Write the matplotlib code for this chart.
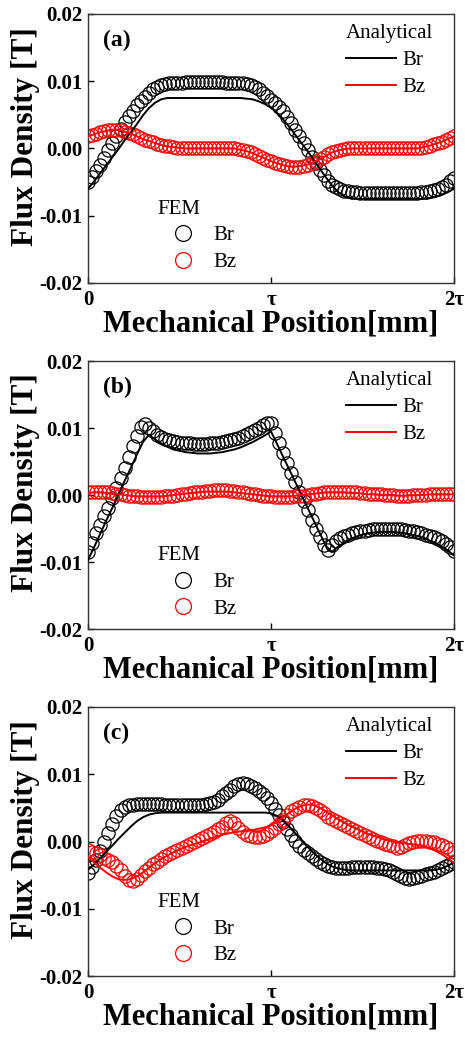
import matplotlib
matplotlib.use("Agg")
import matplotlib.pyplot as plt
import numpy as np

plt.rcParams['font.family'] = ['Liberation Serif', 'DejaVu Serif']

# sample positions, in units of tau (0 .. 2 tau)
x_fem = np.linspace(0, 2, 91)
x_ana = np.linspace(0, 2, 61)

x_ticks = [0, 1, 2]
x_labels = ['0', 'τ', '2τ']
y_ticks = [-0.02, -0.01, 0.0, 0.01, 0.02]
y_labels = ['-0.02', '-0.01', '0.00', '0.01', '0.02']
panel_names = ['(a)', '(b)', '(c)']

# ---- (a) ----
a_fem_br = [-0.0050, -0.0042, -0.0034, -0.0024, -0.0014, -0.0003, 0.0008, 0.0018, 0.0029, 0.0039,
            0.0048, 0.0056, 0.0064, 0.0071, 0.0077, 0.0083, 0.0088, 0.0092, 0.0094, 0.0096,
            0.0097, 0.0098, 0.0098, 0.0098, 0.0099, 0.0099, 0.0099, 0.0099, 0.0099, 0.0099,
            0.0099, 0.0099, 0.0099, 0.0099, 0.0098, 0.0098, 0.0098, 0.0097, 0.0097, 0.0096,
            0.0094, 0.0091, 0.0088, 0.0083, 0.0078, 0.0072, 0.0067, 0.0061, 0.0055, 0.0047,
            0.0038, 0.0028, 0.0018, 0.0008, -0.0002, -0.0012, -0.0022, -0.0032, -0.0040, -0.0048,
            -0.0054, -0.0058, -0.0061, -0.0063, -0.0064, -0.0065, -0.0065, -0.0066, -0.0066, -0.0066,
            -0.0066, -0.0066, -0.0066, -0.0066, -0.0066, -0.0066, -0.0066, -0.0066, -0.0066, -0.0066,
            -0.0066, -0.0066, -0.0065, -0.0065, -0.0064, -0.0062, -0.0060, -0.0057, -0.0054, -0.0049,
            -0.0044]
a_fem_bz = [0.0018, 0.0020, 0.0022, 0.0024, 0.0026, 0.0027, 0.0028, 0.0028, 0.0027, 0.0025,
            0.0023, 0.0021, 0.0018, 0.0016, 0.0013, 0.0011, 0.0009, 0.0007, 0.0005, 0.0004,
            0.0003, 0.0002, 0.0001, 0.0000, 0.0000, 0.0000, 0.0000, 0.0000, 0.0000, 0.0000,
            0.0000, 0.0000, 0.0000, 0.0000, 0.0000, 0.0000, 0.0000, -0.0001, -0.0002, -0.0004,
            -0.0006, -0.0009, -0.0011, -0.0014, -0.0017, -0.0019, -0.0021, -0.0023, -0.0025, -0.0026,
            -0.0027, -0.0027, -0.0027, -0.0026, -0.0024, -0.0022, -0.0019, -0.0016, -0.0012, -0.0009,
            -0.0006, -0.0004, -0.0002, -0.0001, 0.0000, 0.0000, 0.0000, 0.0000, 0.0000, 0.0000,
            0.0000, 0.0000, 0.0000, 0.0000, 0.0000, 0.0000, 0.0000, 0.0000, 0.0000, 0.0000,
            0.0000, 0.0000, 0.0000, 0.0002, 0.0004, 0.0006, 0.0008, 0.0010, 0.0012, 0.0015,
            0.0018]
a_ana_br = [-0.0060, -0.0049, -0.0037, -0.0025, -0.0013, -0.0001, 0.0012, 0.0024, 0.0036, 0.0049,
            0.0060, 0.0068, 0.0073, 0.0075, 0.0075, 0.0075, 0.0075, 0.0075, 0.0075, 0.0075,
            0.0075, 0.0075, 0.0075, 0.0075, 0.0075, 0.0075, 0.0074, 0.0073, 0.0070, 0.0066,
            0.0061, 0.0053, 0.0043, 0.0032, 0.0020, 0.0008, -0.0004, -0.0017, -0.0030, -0.0043,
            -0.0055, -0.0065, -0.0071, -0.0074, -0.0075, -0.0075, -0.0075, -0.0075, -0.0075, -0.0075,
            -0.0075, -0.0075, -0.0075, -0.0075, -0.0075, -0.0075, -0.0074, -0.0072, -0.0069, -0.0065,
            -0.0060]
a_ana_bz = [0.0018, 0.0021, 0.0024, 0.0026, 0.0028, 0.0028, 0.0025, 0.0022, 0.0018, 0.0014,
            0.0011, 0.0008, 0.0005, 0.0003, 0.0002, 0.0001, 0.0000, 0.0000, 0.0000, 0.0000,
            0.0000, 0.0000, 0.0000, 0.0000, 0.0000, -0.0002, -0.0004, -0.0007, -0.0011, -0.0015,
            -0.0019, -0.0022, -0.0025, -0.0027, -0.0027, -0.0026, -0.0024, -0.0020, -0.0016, -0.0011,
            -0.0006, -0.0003, -0.0001, 0.0000, 0.0000, 0.0000, 0.0000, 0.0000, 0.0000, 0.0000,
            0.0000, 0.0000, 0.0000, 0.0000, 0.0000, 0.0002, 0.0004, 0.0007, 0.0010, 0.0014,
            0.0018]

# ---- (b) ----
b_fem_br = [-0.0085, -0.0071, -0.0057, -0.0045, -0.0032, -0.0019, -0.0005, 0.0010, 0.0025, 0.0041,
            0.0057, 0.0073, 0.0088, 0.0102, 0.0106, 0.0100, 0.0095, 0.0090, 0.0087, 0.0084,
            0.0082, 0.0080, 0.0079, 0.0078, 0.0077, 0.0077, 0.0076, 0.0076, 0.0076, 0.0076,
            0.0077, 0.0077, 0.0078, 0.0079, 0.0080, 0.0082, 0.0083, 0.0085, 0.0088, 0.0091,
            0.0094, 0.0097, 0.0100, 0.0104, 0.0108, 0.0108, 0.0093, 0.0078, 0.0063, 0.0048,
            0.0033, 0.0019, 0.0005, -0.0009, -0.0023, -0.0037, -0.0050, -0.0063, -0.0075, -0.0082,
            -0.0074, -0.0068, -0.0064, -0.0061, -0.0059, -0.0057, -0.0055, -0.0054, -0.0053, -0.0052,
            -0.0051, -0.0051, -0.0050, -0.0050, -0.0050, -0.0050, -0.0051, -0.0051, -0.0052, -0.0053,
            -0.0054, -0.0055, -0.0057, -0.0059, -0.0061, -0.0063, -0.0066, -0.0069, -0.0073, -0.0078,
            -0.0083]
b_fem_bz = [0.0004, 0.0005, 0.0005, 0.0005, 0.0005, 0.0004, 0.0003, 0.0002, 0.0001, 0.0000,
            -0.0001, -0.0002, -0.0002, -0.0003, -0.0003, -0.0003, -0.0003, -0.0003, -0.0003, -0.0002,
            -0.0002, -0.0001, 0.0000, 0.0001, 0.0002, 0.0003, 0.0004, 0.0005, 0.0005, 0.0006,
            0.0006, 0.0007, 0.0007, 0.0007, 0.0007, 0.0006, 0.0006, 0.0005, 0.0004, 0.0003,
            0.0002, 0.0001, 0.0000, -0.0001, -0.0002, -0.0002, -0.0003, -0.0003, -0.0003, -0.0003,
            -0.0003, -0.0002, -0.0002, -0.0001, 0.0000, 0.0001, 0.0002, 0.0003, 0.0004, 0.0004,
            0.0005, 0.0005, 0.0005, 0.0005, 0.0005, 0.0004, 0.0004, 0.0003, 0.0003, 0.0002,
            0.0002, 0.0001, 0.0001, 0.0000, 0.0000, 0.0000, -0.0001, -0.0001, -0.0001, -0.0001,
            0.0000, 0.0000, 0.0000, 0.0000, 0.0001, 0.0001, 0.0001, 0.0001, 0.0001, 0.0001,
            0.0001]
b_ana_br = [-0.0097, -0.0078, -0.0058, -0.0038, -0.0019, 0.0001, 0.0021, 0.0040, 0.0060, 0.0079,
            0.0090, 0.0083, 0.0077, 0.0072, 0.0068, 0.0066, 0.0064, 0.0063, 0.0062, 0.0062,
            0.0062, 0.0063, 0.0064, 0.0066, 0.0068, 0.0071, 0.0075, 0.0079, 0.0084, 0.0089,
            0.0095, 0.0076, 0.0057, 0.0038, 0.0019, 0.0000, -0.0019, -0.0038, -0.0057, -0.0076,
            -0.0085, -0.0077, -0.0071, -0.0066, -0.0062, -0.0059, -0.0057, -0.0056, -0.0055, -0.0055,
            -0.0055, -0.0056, -0.0057, -0.0059, -0.0061, -0.0064, -0.0068, -0.0072, -0.0077, -0.0083,
            -0.0090]
b_ana_bz = [0.0003, 0.0004, 0.0004, 0.0003, 0.0002, 0.0001, 0.0000, -0.0001, -0.0002, -0.0002,
            -0.0002, -0.0002, -0.0002, -0.0001, 0.0000, 0.0001, 0.0002, 0.0003, 0.0004, 0.0005,
            0.0005, 0.0005, 0.0005, 0.0005, 0.0004, 0.0003, 0.0002, 0.0001, 0.0000, -0.0001,
            -0.0002, -0.0002, -0.0002, -0.0002, -0.0001, 0.0000, 0.0001, 0.0002, 0.0003, 0.0004,
            0.0004, 0.0004, 0.0004, 0.0003, 0.0003, 0.0002, 0.0001, 0.0001, 0.0000, 0.0000,
            0.0000, -0.0001, -0.0001, 0.0000, 0.0000, 0.0000, 0.0001, 0.0001, 0.0001, 0.0001,
            0.0001]

# ---- (c) ----
c_fem_br = [-0.0047, -0.0038, -0.0027, -0.0014, -0.0001, 0.0013, 0.0026, 0.0038, 0.0047, 0.0052,
            0.0054, 0.0055, 0.0056, 0.0056, 0.0056, 0.0056, 0.0056, 0.0056, 0.0056, 0.0055,
            0.0055, 0.0055, 0.0055, 0.0055, 0.0055, 0.0055, 0.0055, 0.0055, 0.0055, 0.0056,
            0.0057, 0.0059, 0.0062, 0.0067, 0.0072, 0.0077, 0.0082, 0.0085, 0.0087, 0.0086,
            0.0083, 0.0079, 0.0075, 0.0070, 0.0064, 0.0057, 0.0048, 0.0039, 0.0029, 0.0019,
            0.0009, 0.0001, -0.0006, -0.0012, -0.0017, -0.0022, -0.0026, -0.0030, -0.0033, -0.0036,
            -0.0038, -0.0039, -0.0039, -0.0039, -0.0039, -0.0038, -0.0038, -0.0038, -0.0038, -0.0038,
            -0.0038, -0.0039, -0.0040, -0.0041, -0.0043, -0.0046, -0.0049, -0.0052, -0.0054, -0.0055,
            -0.0054, -0.0053, -0.0051, -0.0049, -0.0047, -0.0045, -0.0042, -0.0040, -0.0037, -0.0034,
            -0.0031]
c_fem_bz = [-0.0013, -0.0015, -0.0017, -0.0020, -0.0024, -0.0028, -0.0031, -0.0036, -0.0043, -0.0051,
            -0.0057, -0.0059, -0.0056, -0.0050, -0.0044, -0.0039, -0.0034, -0.0030, -0.0026, -0.0022,
            -0.0018, -0.0015, -0.0012, -0.0009, -0.0006, -0.0004, -0.0001, 0.0002, 0.0005, 0.0008,
            0.0011, 0.0014, 0.0018, 0.0022, 0.0027, 0.0030, 0.0027, 0.0020, 0.0014, 0.0010,
            0.0008, 0.0007, 0.0007, 0.0008, 0.0011, 0.0015, 0.0020, 0.0026, 0.0032, 0.0039,
            0.0045, 0.0049, 0.0052, 0.0054, 0.0054, 0.0053, 0.0050, 0.0047, 0.0042, 0.0037,
            0.0033, 0.0030, 0.0027, 0.0024, 0.0021, 0.0018, 0.0015, 0.0012, 0.0009, 0.0006,
            0.0004, 0.0001, 0.0000, -0.0003, -0.0005, -0.0007, -0.0009, -0.0008, -0.0005, -0.0002,
            0.0000, 0.0001, 0.0001, 0.0001, 0.0000, -0.0001, -0.0003, -0.0005, -0.0008, -0.0011,
            -0.0015]
c_ana_br = [-0.0042, -0.0034, -0.0025, -0.0015, -0.0006, 0.0004, 0.0013, 0.0022, 0.0030, 0.0036,
            0.0040, 0.0042, 0.0043, 0.0043, 0.0043, 0.0043, 0.0043, 0.0043, 0.0043, 0.0043,
            0.0043, 0.0043, 0.0043, 0.0043, 0.0043, 0.0043, 0.0043, 0.0043, 0.0043, 0.0043,
            0.0042, 0.0038, 0.0031, 0.0022, 0.0012, 0.0002, -0.0008, -0.0017, -0.0025, -0.0032,
            -0.0037, -0.0040, -0.0042, -0.0043, -0.0043, -0.0043, -0.0043, -0.0043, -0.0043, -0.0043,
            -0.0043, -0.0043, -0.0043, -0.0043, -0.0043, -0.0043, -0.0043, -0.0042, -0.0040, -0.0036,
            -0.0031]
c_ana_bz = [-0.0023, -0.0031, -0.0039, -0.0046, -0.0052, -0.0056, -0.0057, -0.0056, -0.0052, -0.0046,
            -0.0039, -0.0032, -0.0026, -0.0021, -0.0016, -0.0012, -0.0008, -0.0005, -0.0002, 0.0001,
            0.0004, 0.0007, 0.0010, 0.0012, 0.0014, 0.0015, 0.0016, 0.0017, 0.0019, 0.0021,
            0.0024, 0.0029, 0.0036, 0.0043, 0.0049, 0.0053, 0.0055, 0.0054, 0.0050, 0.0045,
            0.0039, 0.0033, 0.0028, 0.0023, 0.0019, 0.0015, 0.0011, 0.0008, 0.0005, 0.0002,
            0.0000, -0.0002, -0.0003, -0.0004, -0.0005, -0.0007, -0.0010, -0.0014, -0.0019, -0.0025,
            -0.0032]

panels = [
    (a_fem_br, a_fem_bz, a_ana_br, a_ana_bz),
    (b_fem_br, b_fem_bz, b_ana_br, b_ana_bz),
    (c_fem_br, c_fem_bz, c_ana_br, c_ana_bz),
]
# axes rectangles (figure fraction)
rects = [
    [0.1892, 0.7274, 0.7871, 0.2592],
    [0.1892, 0.3940, 0.7871, 0.2582],
    [0.1892, 0.0597, 0.7871, 0.2592],
]

fig = plt.figure(figsize=(4.65, 10.38), dpi=100)
leg_font = {'family': 'Liberation Serif', 'size': 15}

for name, (fbr, fbz, abr, abz), rect in zip(panel_names, panels, rects):
    ax = fig.add_axes(rect)
    p_br, = ax.plot(x_fem, fbr, 'o', mfc='none', mec='black', ms=9.5, mew=0.9, zorder=2)
    p_bz, = ax.plot(x_fem, fbz, 'o', mfc='none', mec='#ff0000', ms=9.5, mew=0.9, zorder=2)
    l_br, = ax.plot(x_ana, abr, '-', color='black', lw=1.4, zorder=3)
    l_bz, = ax.plot(x_ana, abz, '-', color='#ff0000', lw=1.4, zorder=3)

    ax.set_xlim(0, 2)
    ax.set_ylim(-0.02, 0.02)
    ax.set_xticks(x_ticks)
    ax.set_xticklabels(x_labels, fontsize=15, fontweight='bold')
    ax.set_yticks(y_ticks)
    ax.set_yticklabels(y_labels, fontsize=15, fontweight='bold')
    ax.tick_params(direction='in', length=4, width=1, top=False, right=False)
    ax.tick_params(axis='x', pad=5)
    ax.tick_params(axis='y', pad=4)
    for sp in ax.spines.values():
        sp.set_linewidth(1.0)
        sp.set_color('#333333')

    ax.set_ylabel('Flux Density [T]', fontsize=22.5, fontweight='bold')
    ax.yaxis.set_label_coords(-0.131, 0.545)
    ax.set_xlabel('Mechanical Position[mm]', fontsize=22, fontweight='bold', labelpad=0)
    ax.text(0.04, 0.90, name, transform=ax.transAxes, fontsize=17, fontweight='bold',
            va='center', ha='left')

    leg1 = ax.legend([l_br, l_bz], ['Br', 'Bz'], title='Analytical', loc='upper left',
                     bbox_to_anchor=(0.705, 0.962), frameon=False, handlelength=2.4,
                     handletextpad=0.3, labelspacing=0.35, borderpad=0, borderaxespad=0,
                     alignment='left', prop=leg_font, title_fontproperties=leg_font)
    ax.add_artist(leg1)
    ax.legend([p_br, p_bz], ['Br', 'Bz'], title='FEM', loc='upper left',
              bbox_to_anchor=(0.19, 0.31), frameon=False, handlelength=2.4,
              handletextpad=0.3, labelspacing=0.35, borderpad=0, borderaxespad=0,
              markerscale=1.2, alignment='left', prop=leg_font, title_fontproperties=leg_font)

fig.savefig('out.png', dpi=100)
